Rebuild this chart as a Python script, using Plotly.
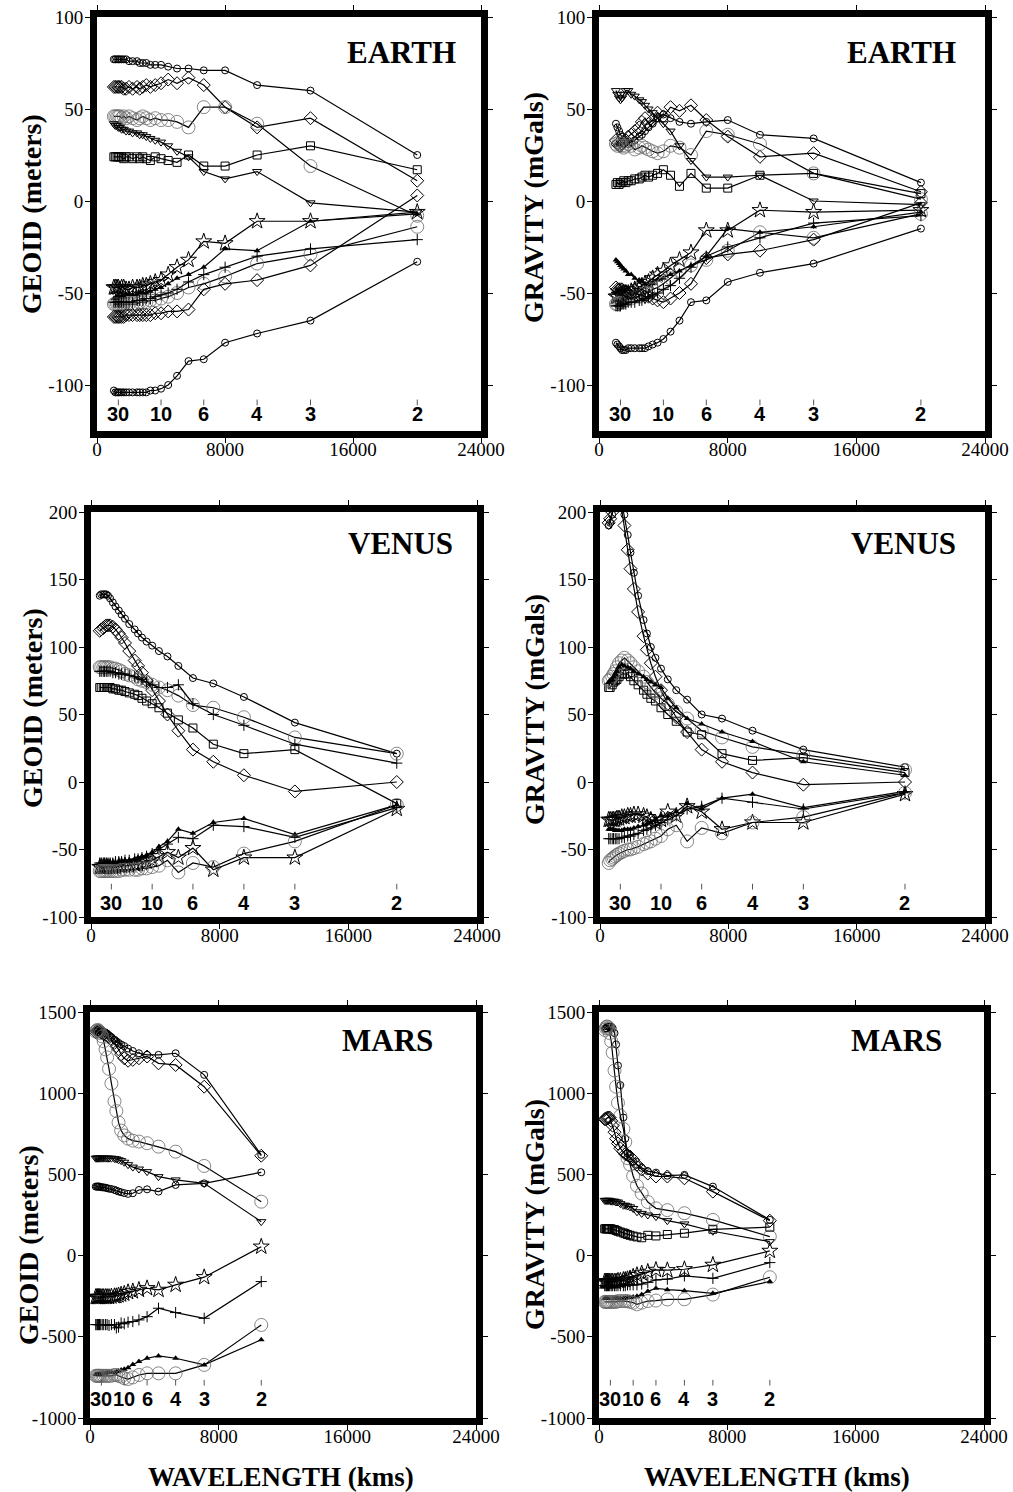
import plotly.graph_objects as go

# ---------------- data ----------------
EARTH_C = 40030.0   # km, circumference -> wavelength = C / degree
VENUS_C = 38025.0
MARS_C = 21297.0

earth_deg = [2,3,4,5,6,7,8,9,10,11,12,13,14,15,16,18,20,22,24,26,28,30,32,35,38]
venus_deg = [2,3,4,5,6,7,8,9,10,11,12,13,14,16,18,20,22,25,28,32,36,40,45,50,60,70]
mars_deg = [2,3,4,5,6,7,8,9,10,11,12,13,14,16,18,20,22,25,28,32,36,40,45,50,60]

label_deg = [30, 10, 6, 4, 3, 2]

# Earth geoid (m)
e_geo_circle = [25,60,63,71,71,72,72,73,74,74,74,75,75,75,76,76,76,77,77,77,77,77,77,77,77]
e_geo_diamond = [11,45,40,51,63,67,64,66,64,63,62,63,62,61,62,61,62,61,61,62,62,62,62,62,62]
e_geo_dcircle = [-8,19,42,51,51,40,43,44,44,45,44,45,46,45,44,45,46,45,46,45,46,46,46,46,46]
e_geo_square = [17,30,25,19,19,25,21,22,23,24,22,23,24,23,24,23,24,24,23,24,24,24,24,24,24]
e_geo_tdown = [-6,-1,16,12,16,24,27,30,32,33,34,35,36,36,37,37,38,38,39,39,40,40,41,41,42]
e_geo_star = [-6,-11,-11,-23,-22,-32,-36,-40,-43,-44,-45,-46,-46,-47,-47,-47,-48,-48,-47,-47,-48,-47,-47,-47,-47]
e_geo_tup = [-7,-11,-27,-26,-36,-40,-42,-45,-47,-48,-49,-50,-50,-50,-51,-51,-51,-51,-52,-52,-52,-52,-52,-53,-53]
e_geo_dcircle2 = [-14,-29,-34,-41,-45,-47,-50,-52,-53,-54,-54,-55,-55,-55,-56,-56,-56,-56,-56,-56,-56,-56,-56,-56,-56]
e_geo_diamond2 = [3,-35,-43,-45,-48,-59,-60,-60,-61,-61,-62,-62,-62,-62,-62,-62,-62,-62,-63,-63,-63,-63,-63,-63,-63]
e_geo_plus = [-21,-26,-30,-36,-40,-44,-48,-50,-51,-52,-53,-53,-54,-54,-54,-55,-55,-55,-55,-55,-55,-55,-55,-55,-55]
e_geo_circle2 = [-33,-65,-72,-77,-86,-87,-95,-100,-102,-103,-103,-104,-104,-104,-104,-104,-104,-104,-104,-104,-104,-104,-104,-104,-103]

# Earth gravity (mGal)
e_grv_circle = [10,34,36,44,43,42,43,45,47,45,42,40,38,36,35,33,32,31,32,33,35,36,38,40,42]
e_grv_diamond = [5,26,24,35,44,52,49,51,46,48,44,42,45,43,40,38,36,35,33,32,31,30,30,31,33]
e_grv_dcircle = [1,15,31,36,38,25,29,30,27,26,27,28,29,30,29,28,30,31,30,29,30,31,32,30,31]
e_grv_square = [4,15,14,7,7,15,8,14,17,15,14,13,14,13,12,12,11,11,10,11,10,10,9,10,9]
e_grv_tdown = [-2,0,14,13,13,22,30,38,42,45,48,50,52,54,55,57,58,60,60,58,56,55,56,58,60]
e_grv_star = [-5,-6,-5,-16,-16,-28,-32,-35,-38,-40,-42,-44,-45,-46,-47,-48,-49,-50,-50,-50,-51,-51,-51,-52,-52]
e_grv_tup = [-6,-14,-17,-15,-30,-35,-38,-40,-42,-43,-45,-46,-45,-44,-43,-42,-40,-40,-38,-37,-36,-35,-34,-33,-32]
e_grv_dcircle2 = [-7,-20,-17,-27,-32,-35,-38,-42,-45,-47,-48,-50,-50,-51,-52,-52,-53,-53,-54,-54,-55,-55,-55,-56,-56]
e_grv_diamond2 = [-1,-21,-27,-29,-31,-45,-50,-53,-55,-54,-53,-52,-52,-51,-51,-50,-50,-50,-49,-49,-48,-48,-48,-48,-47]
e_grv_plus = [-8,-12,-20,-25,-30,-36,-42,-46,-48,-50,-51,-52,-53,-54,-54,-55,-55,-55,-56,-56,-56,-57,-57,-57,-57]
e_grv_circle2 = [-15,-34,-39,-44,-54,-55,-65,-71,-75,-77,-78,-79,-80,-80,-80,-80,-80,-80,-81,-81,-81,-80,-79,-78,-77]

# Venus geoid (m)
v_geo_circle = [21,44,63,73,77,86,93,97,101,104,107,110,113,117,121,124,127,130,133,136,138,139,139,139,139,138]
v_geo_diamond = [0,-7,5,15,24,38,50,60,68,75,81,86,90,97,103,107,110,113,115,116,116,116,115,114,113,112]
v_geo_square = [-16,24,21,28,40,46,51,55,58,60,62,64,65,66,67,68,68,69,69,70,70,70,70,70,70,70]
v_geo_dcircle = [21,33,48,55,57,64,68,70,72,74,75,76,78,79,80,82,83,84,84,85,85,85,85,85,85,85]
v_geo_plus = [14,28,42,50,58,72,70,70,72,74,76,77,78,79,80,80,80,81,81,82,82,82,82,82,82,82]
v_geo_tup = [-17,-39,-27,-30,-38,-35,-44,-48,-52,-54,-55,-56,-57,-58,-58,-59,-59,-60,-60,-60,-60,-60,-61,-61,-61,-61]
v_geo_plus2 = [-19,-41,-33,-32,-42,-41,-46,-50,-53,-55,-56,-57,-57,-58,-58,-59,-59,-59,-60,-60,-60,-60,-60,-60,-60,-60]
v_geo_star = [-20,-56,-56,-65,-49,-56,-52,-55,-58,-59,-60,-61,-61,-62,-62,-62,-62,-63,-63,-63,-63,-63,-63,-63,-63,-63]
v_geo_dcircle2 = [-17,-44,-53,-63,-60,-67,-58,-62,-63,-64,-64,-65,-65,-65,-65,-65,-66,-66,-66,-66,-66,-66,-66,-66,-66,-66]

# Venus gravity (mGal)
v_grv_circle = [11,24,38,47,50,61,68,76,84,92,100,110,120,138,155,170,183,198,210,218,220,215,205,198,192,190]
v_grv_diamond = [0,-2,7,15,24,37,48,58,68,78,88,98,108,126,143,158,172,190,205,215,220,218,210,200,195,192]
v_grv_square = [7,18,16,21,35,37,45,50,55,60,62,65,68,72,75,78,80,80,80,78,76,75,74,72,70,70]
v_grv_dcircle = [9,20,26,33,38,47,52,58,62,66,70,74,78,82,85,88,90,92,90,88,85,82,80,78,76,75]
v_grv_tup1 = [5,15,30,37,43,47,55,62,70,72,74,76,78,80,82,84,85,86,87,85,82,80,78,76,75,74]
v_grv_tup = [-7,-19,-9,-12,-20,-16,-22,-25,-25,-28,-30,-31,-32,-33,-34,-35,-35,-35,-36,-36,-36,-36,-35,-35,-35,-35]
v_grv_plus = [-8,-20,-15,-12,-18,-20,-25,-28,-30,-32,-34,-35,-36,-38,-39,-40,-40,-41,-41,-42,-42,-42,-42,-42,-42,-42]
v_grv_star = [-9,-30,-30,-35,-22,-18,-25,-22,-28,-30,-28,-26,-25,-24,-24,-25,-25,-26,-26,-27,-27,-28,-28,-28,-28,-28]
v_grv_dcircle2 = [-8,-26,-30,-38,-34,-44,-32,-35,-40,-42,-44,-45,-46,-48,-49,-50,-50,-51,-52,-53,-54,-55,-56,-57,-58,-60]

# Mars geoid (m)
m_geo_t1 = [620,1113,1246,1236,1236,1246,1260,1275,1290,1300,1310,1320,1330,1345,1355,1365,1370,1375,1380,1385,1390,1390,1390,1385,1380]
m_geo_t2 = [615,1040,1174,1184,1226,1215,1205,1200,1215,1240,1270,1290,1310,1330,1345,1355,1360,1365,1370,1375,1380,1385,1385,1380,1375]
m_geo_dsteep = [332,552,640,671,692,702,708,720,740,770,820,890,950,1060,1150,1220,1270,1320,1350,1370,1380,1385,1390,1385,1380]
m_geo_tdown = [209,445,466,486,517,533,545,560,575,585,590,595,598,600,600,600,600,600,600,600,600,600,600,600,600]
m_geo_circle = [513,445,435,394,408,404,384,380,385,390,395,400,405,410,412,415,418,420,420,422,425,425,425,425,425]
m_geo_star = [55,-133,-180,-211,-201,-211,-220,-225,-235,-240,-245,-250,-250,-252,-255,-255,-255,-255,-255,-255,-255,-255,-255,-255,-255]
m_geo_plus = [-160,-386,-351,-324,-376,-396,-406,-410,-420,-415,-440,-445,-425,-425,-430,-425,-425,-425,-425,-425,-425,-425,-425,-425,-425]
m_geo_tup = [-518,-673,-632,-618,-632,-652,-670,-690,-700,-705,-710,-715,-720,-720,-720,-720,-725,-725,-725,-730,-730,-730,-730,-730,-730]
m_geo_dcircle = [-427,-673,-725,-725,-725,-735,-750,-760,-755,-745,-740,-735,-735,-740,-740,-740,-740,-740,-740,-740,-740,-740,-740,-740,-740]

# Mars gravity (mGal)
m_grv_t1 = [220,425,497,492,511,520,540,560,580,600,630,720,850,1050,1170,1300,1370,1400,1410,1410,1410,1410,1400,1400,1395]
m_grv_dsteep = [117,220,261,280,291,330,382,430,490,560,600,700,780,860,940,1040,1140,1250,1320,1370,1400,1410,1410,1400,1390]
m_grv_t2 = [215,394,476,487,487,505,530,560,590,610,620,625,640,660,690,720,760,800,830,850,850,850,845,840,840]
m_grv_tdown = [86,150,195,215,240,250,260,270,290,300,305,310,310,320,330,330,335,335,335,340,340,340,340,340,340]
m_grv_square = [175,162,138,130,121,125,110,115,120,125,130,135,140,145,150,155,160,160,165,165,165,165,165,165,165]
m_grv_star = [29,-57,-84,-90,-88,-100,-110,-120,-130,-140,-145,-150,-150,-155,-155,-160,-160,-160,-160,-160,-160,-160,-160,-160,-160]
m_grv_plus = [-43,-140,-125,-145,-150,-165,-175,-180,-180,-180,-180,-185,-185,-185,-185,-185,-185,-185,-185,-185,-185,-185,-185,-185,-185]
m_grv_tup = [-160,-232,-216,-210,-201,-220,-240,-250,-255,-258,-260,-262,-262,-262,-262,-262,-262,-262,-262,-262,-262,-262,-262,-262,-262]
m_grv_dcircle = [-133,-240,-269,-270,-277,-280,-290,-300,-290,-285,-280,-280,-280,-280,-280,-285,-285,-285,-285,-285,-285,-285,-285,-285,-285]

x_tickvals = [0, 8000, 16000, 24000]
x_ticktext = ["0", "8000", "16000", "24000"]
earth_yticks = [-100, -50, 0, 50, 100]
venus_yticks = [-100, -50, 0, 50, 100, 150, 200]
mars_yticks = [-1000, -500, 0, 500, 1000, 1500]

# ---------------- styling ----------------
W, H = 1013, 1492
SERIF = "Liberation Serif"
SANS = "Liberation Sans"

STY = {
    "circle": dict(symbol="circle-open", size=7, color="black", line=dict(width=1)),
    "diamond": dict(symbol="diamond-open", size=10, color="black", line=dict(width=1)),
    "square": dict(symbol="square-open", size=8, color="black", line=dict(width=1)),
    "tdown": dict(symbol="triangle-down-open", size=8, color="black", line=dict(width=1)),
    "tup": dict(symbol="triangle-up", size=6, color="black", line=dict(width=0)),
    "star": dict(symbol="star-open", size=12, color="black", line=dict(width=1)),
    "plus": dict(symbol="cross-thin-open", size=8, color="black", line=dict(width=1)),
    "dcircle": dict(symbol="circle-open", size=13, color="#6a6a6a", line=dict(width=0.8)),
}

panels = [
    dict(C=EARTH_C, deg=earth_deg, yr=[-125, 100], yt=earth_yticks, title="EARTH",
         xdom=(97, 481), ydom=(17, 431), tx=0.94, ty=0.915, lab_y=0.04, tk=(0.062, 0.076),
         series=[(e_geo_circle, "circle"), (e_geo_diamond, "diamond"), (e_geo_dcircle, "dcircle"),
                 (e_geo_square, "square"), (e_geo_tdown, "tdown"), (e_geo_star, "star"),
                 (e_geo_tup, "tup"), (e_geo_dcircle2, "dcircle"), (e_geo_diamond2, "diamond"),
                 (e_geo_plus, "plus"), (e_geo_circle2, "circle")]),
    dict(C=EARTH_C, deg=earth_deg, yr=[-125, 100], yt=earth_yticks, title="EARTH",
         xdom=(599, 985), ydom=(17, 431), tx=0.93, ty=0.915, lab_y=0.04, tk=(0.062, 0.076),
         series=[(e_grv_circle, "circle"), (e_grv_diamond, "diamond"), (e_grv_dcircle, "dcircle"),
                 (e_grv_square, "square"), (e_grv_tdown, "tdown"), (e_grv_star, "star"),
                 (e_grv_tup, "tup"), (e_grv_dcircle2, "dcircle"), (e_grv_diamond2, "diamond"),
                 (e_grv_plus, "plus"), (e_grv_circle2, "circle")]),
    dict(C=VENUS_C, deg=venus_deg, yr=[-100, 200], yt=venus_yticks, title="VENUS",
         xdom=(91, 477), ydom=(512, 917), tx=0.943, ty=0.923, lab_y=0.035, tk=(0.068, 0.082),
         series=[(v_geo_circle, "circle"), (v_geo_diamond, "diamond"), (v_geo_square, "square"),
                 (v_geo_dcircle, "dcircle"), (v_geo_plus, "plus"), (v_geo_tup, "tup"),
                 (v_geo_plus2, "plus"), (v_geo_star, "star"), (v_geo_dcircle2, "dcircle")]),
    dict(C=VENUS_C, deg=venus_deg, yr=[-100, 200], yt=venus_yticks, title="VENUS",
         xdom=(600, 985), ydom=(512, 917), tx=0.93, ty=0.923, lab_y=0.035, tk=(0.068, 0.082),
         series=[(v_grv_circle, "circle"), (v_grv_diamond, "diamond"), (v_grv_square, "square"),
                 (v_grv_dcircle, "dcircle"), (v_grv_tup1, "tup"), (v_grv_tup, "tup"),
                 (v_grv_plus, "plus"), (v_grv_star, "star"), (v_grv_dcircle2, "dcircle")]),
    dict(C=MARS_C, deg=mars_deg, yr=[-1000, 1500], yt=mars_yticks, title="MARS",
         xdom=(90, 476), ydom=(1012, 1418), tx=0.894, ty=0.93, lab_y=0.048, tk=(0.08, 0.094),
         series=[(m_geo_t1, "circle"), (m_geo_t2, "diamond"), (m_geo_dsteep, "dcircle"),
                 (m_geo_tdown, "tdown"), (m_geo_circle, "circle"), (m_geo_star, "star"),
                 (m_geo_plus, "plus"), (m_geo_tup, "tup"), (m_geo_dcircle, "dcircle")]),
    dict(C=MARS_C, deg=mars_deg, yr=[-1000, 1500], yt=mars_yticks, title="MARS",
         xdom=(599, 984), ydom=(1012, 1418), tx=0.896, ty=0.93, lab_y=0.048, tk=(0.08, 0.094),
         series=[(m_grv_t1, "circle"), (m_grv_dsteep, "dcircle"), (m_grv_t2, "diamond"),
                 (m_grv_tdown, "tdown"), (m_grv_square, "square"), (m_grv_star, "star"),
                 (m_grv_plus, "plus"), (m_grv_tup, "tup"), (m_grv_dcircle, "dcircle")]),
]

fig = go.Figure()
shapes = []
annotations = []
layout_axes = {}

for i, p in enumerate(panels, start=1):
    sfx = "" if i == 1 else str(i)
    xname, yname = "x" + sfx, "y" + sfx
    wl = [p["C"] / d for d in p["deg"]]
    for vals, sty in p["series"]:
        fig.add_trace(go.Scatter(
            x=wl, y=vals, xaxis=xname, yaxis=yname, mode="lines+markers",
            line=dict(color="black", width=1.2), marker=STY[sty], showlegend=False,
            hoverinfo="skip"))
    common = dict(showline=True, linewidth=7, linecolor="black", mirror="ticks",
                  ticks="outside", ticklen=5, tickwidth=1, tickcolor="black",
                  showgrid=False, zeroline=False, automargin=False,
                  tickfont=dict(family=SERIF, size=19, color="black"))
    layout_axes["xaxis" + sfx] = dict(
        domain=[p["xdom"][0] / W, p["xdom"][1] / W], range=[0, 24000], anchor=yname,
        tickmode="array", tickvals=x_tickvals, ticktext=x_ticktext,
        ticklabelstandoff=-10, **common)
    layout_axes["yaxis" + sfx] = dict(
        domain=[1 - p["ydom"][1] / H, 1 - p["ydom"][0] / H], range=p["yr"], anchor=xname,
        tickmode="array", tickvals=p["yt"], ticktext=[str(v) for v in p["yt"]],
        ticklabelstandoff=-2, **common)
    # degree markers and labels
    for d in label_deg:
        xv = p["C"] / d
        shapes.append(dict(type="line", xref=xname, yref=yname + " domain",
                           x0=xv, x1=xv, y0=p["tk"][0], y1=p["tk"][1],
                           line=dict(color="#555", width=1)))
        annotations.append(dict(xref=xname, yref=yname + " domain", x=xv, y=p["lab_y"],
                                text="<b>%d</b>" % d, showarrow=False, yanchor="middle",
                                xanchor="center",
                                font=dict(family=SANS, size=20, color="black")))
    annotations.append(dict(xref=xname + " domain", yref=yname + " domain", x=p["tx"], y=p["ty"],
                            text="<b>%s</b>" % p["title"], showarrow=False,
                            xanchor="right", yanchor="middle",
                            font=dict(family=SERIF, size=31, color="black")))

# axis titles
ytitles = [("GEOID (meters)", 32, 214), ("GRAVITY (mGals)", 534, 208),
           ("GEOID (meters)", 32, 708), ("GRAVITY (mGals)", 534, 710),
           ("GEOID (meters)", 28, 1245), ("GRAVITY (mGals)", 534, 1215)]
for txt, xp, yp in ytitles:
    annotations.append(dict(xref="paper", yref="paper", x=xp / W, y=1 - yp / H,
                            text="<b>%s</b>" % txt, showarrow=False, textangle=-90,
                            xanchor="center", yanchor="middle",
                            font=dict(family=SERIF, size=28, color="black")))
for xp in (281, 777):
    annotations.append(dict(xref="paper", yref="paper", x=xp / W, y=1 - 1477 / H,
                            text="<b>WAVELENGTH (kms)</b>", showarrow=False,
                            xanchor="center", yanchor="middle",
                            font=dict(family=SERIF, size=27, color="black")))

fig.update_layout(
    template="none",
    width=W, height=H, autosize=False,
    margin=dict(l=0, r=0, t=0, b=0, pad=0),
    paper_bgcolor="white", plot_bgcolor="white",
    shapes=shapes, annotations=annotations,
    **layout_axes)

fig.write_html("out.html", config={"displayModeBar": False},
               post_script="document.body.style.margin='0px';")
